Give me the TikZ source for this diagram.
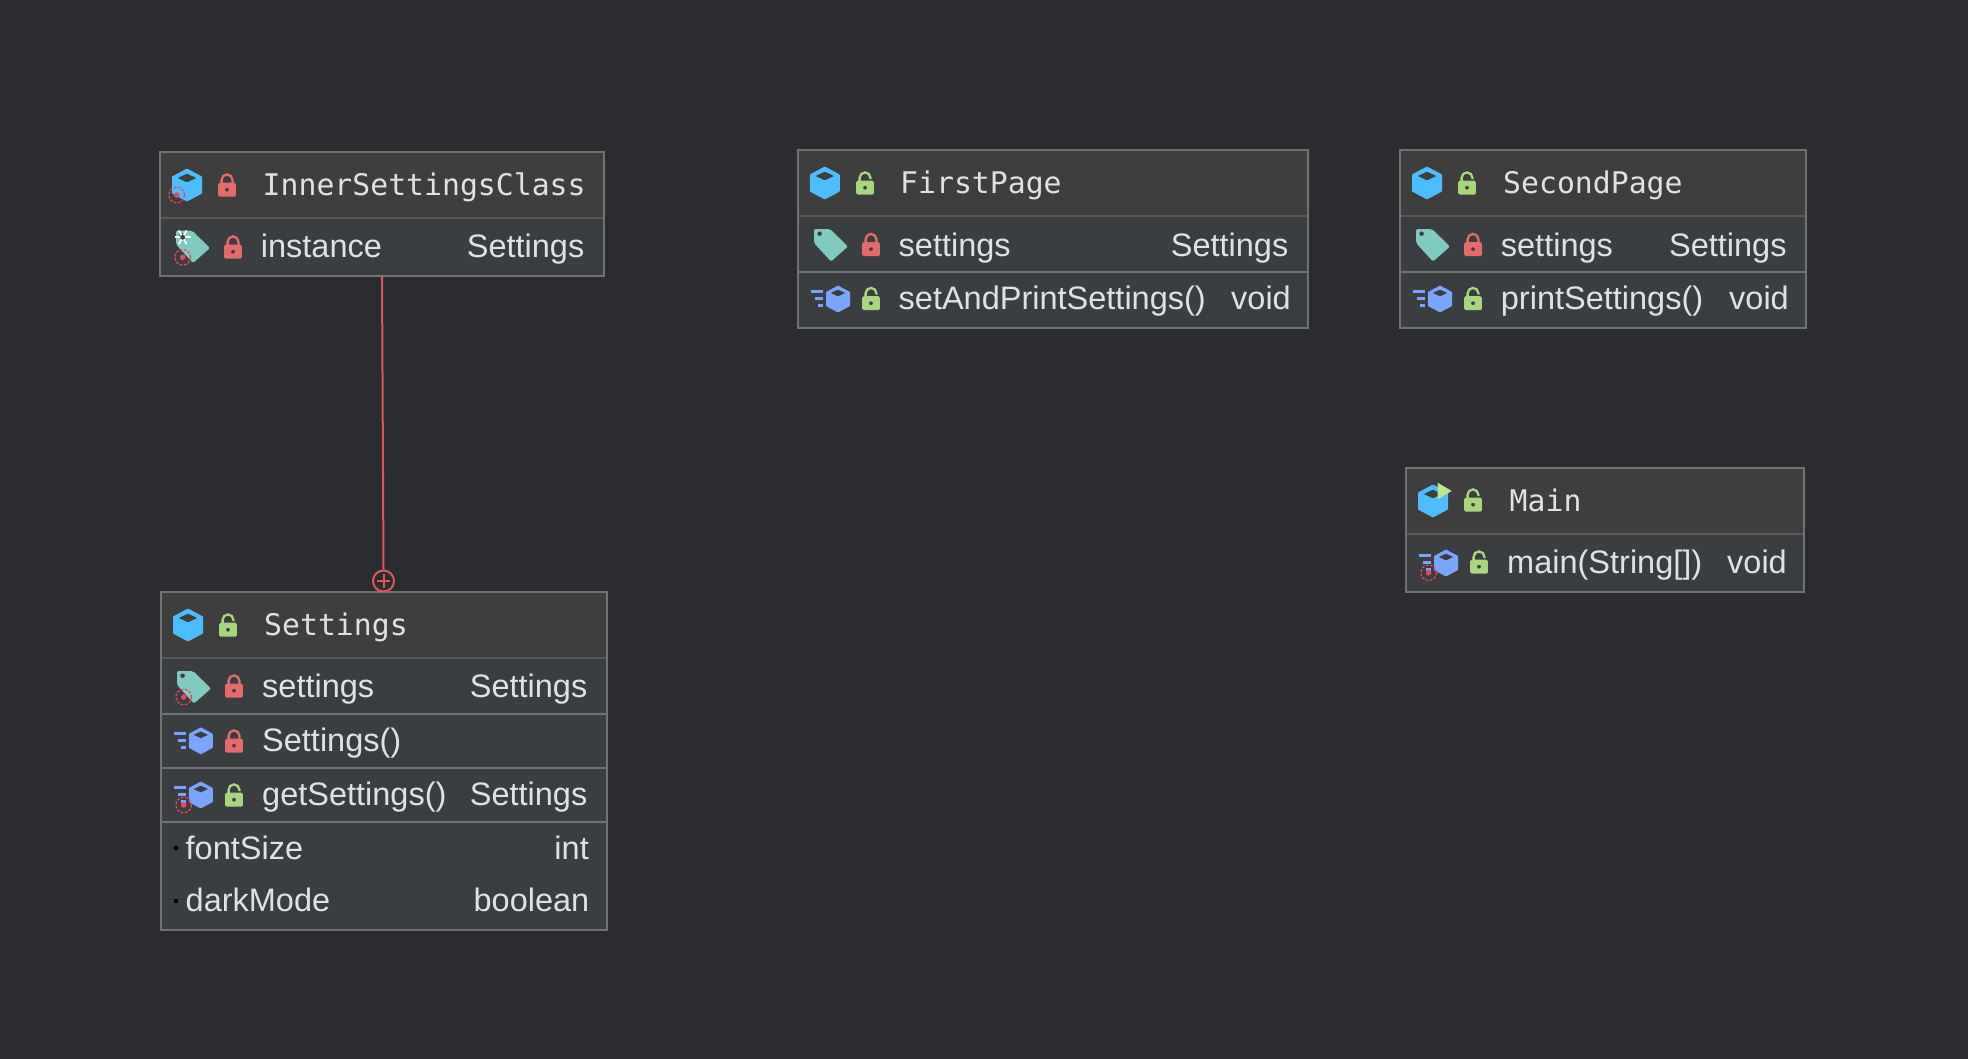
\documentclass[tikz,border=0pt]{standalone}
\usepackage{fontspec}
\setmainfont{Liberation Sans}
\setmonofont{DejaVu Sans Mono}
\definecolor{canvas}{HTML}{2A2C2F}
\definecolor{headfill}{HTML}{3E3E3E}
\definecolor{rowfill}{HTML}{3B3E41}
\definecolor{frame}{HTML}{727272}
\definecolor{dimframe}{HTML}{585858}
\definecolor{label}{HTML}{DFE1E5}
\definecolor{classblue}{HTML}{4CBEFF}
\definecolor{methodblue}{HTML}{7AA5FF}
\definecolor{tagteal}{HTML}{7FCBC0}
\definecolor{lockred}{HTML}{E66A6A}
\definecolor{lockgreen}{HTML}{A8D67E}
\definecolor{rungreen}{HTML}{BDE48E}
\definecolor{markred}{HTML}{F0435F}
\definecolor{linkred}{HTML}{E0555C}
\tikzset{
  x=1pt,y=-1pt,
  head/.style={draw=frame,fill=headfill,line width=2.2pt,anchor=north west,inner sep=0pt,outer sep=0pt},
  row/.style={head,fill=rowfill},
  title/.style={text=label,anchor=base west,inner sep=0pt,font=\ttfamily\fontsize{29.8}{32}\selectfont},
  member/.style={text=label,anchor=base west,inner sep=0pt,font=\fontsize{32.5}{34}\selectfont},
  kind/.style={member,anchor=base east},
  dimline/.style={draw=dimframe,line width=2pt},
  pics/classcube/.style={code={
    \fill[classblue,even odd rule,rounded corners=0.8pt] (0,-16.5) -- (15,-8.5) -- (15,8.5) -- (0,16.5) -- (-15,8.5) -- (-15,-8.5) -- cycle
      (0,-11.5) -- (9.5,-7) -- (0,-2.5) -- (-9.5,-7) -- cycle;
  }},
  pics/methodcube/.style={code={
    \fill[methodblue,even odd rule,rounded corners=0.6pt] (0,-13.5) -- (12,-7) -- (12,7) -- (0,13.5) -- (-12,7) -- (-12,-7) -- cycle
      (0,-9.5) -- (7.5,-6) -- (0,-2.5) -- (-7.5,-6) -- cycle;
    \fill[methodblue] (-26.7,-8.8) rectangle (-15,-5.8);
    \fill[methodblue] (-23,-2.2) rectangle (-15,0.8);
    \fill[methodblue] (-20,5.2) rectangle (-15,8.2);
  }},
  pics/tag/.style={code={
    \fill[tagteal,even odd rule,rounded corners=2pt] (-17,-16) -- (-1,-16) -- (17,1.5) -- (0,16.5) -- (-17,-2) -- cycle
      (-9,-11.3) arc[start angle=0,end angle=360,radius=2.4];
  }},
  pics/lockshut/.style={code={
    \draw[lockred,line width=2.3pt] (-5.4,0) -- (-5.4,-5.2) arc[start angle=180,end angle=360,radius=5.4] -- (5.4,0);
    \fill[lockred,even odd rule,rounded corners=1.5pt] (-8.8,-2.3) rectangle (8.8,11.7)
      (2,4.7) arc[start angle=0,end angle=360,radius=2];
  }},
  pics/lockopen/.style={code={
    \draw[lockgreen,line width=2.3pt] (-5.4,0) -- (-5.4,-5.2) arc[start angle=180,end angle=360,radius=5.4] -- (5.4,-3.8);
    \fill[lockgreen,even odd rule,rounded corners=1.5pt] (-8.8,-2.3) rectangle (8.8,11.7)
      (2,4.7) arc[start angle=0,end angle=360,radius=2];
  }},
  pics/staticmark/.style={code={
    \draw[markred,line width=1.3pt,dash pattern=on 2.6pt off 1.6pt] (0,0) circle[radius=7.8];
    \fill[markred] (0,0) circle[radius=2.8];
  }},
  pics/frozenmark/.style={code={
    \draw[white,line width=1.8pt] (-7.8,0) -- (7.8,0);
    \draw[white,line width=1.8pt] (-3.9,-6.8) -- (3.9,6.8);
    \draw[white,line width=1.8pt] (-3.9,6.8) -- (3.9,-6.8);
    \fill[rowfill] (0,0) circle[radius=2.4];
  }},
  pics/packagemark/.style={code={
    \fill[black] (-2,-2) rectangle (2,2);
  }},
  pics/runmark/.style={code={
    \fill[rungreen] (4.7,-18.3) -- (18.7,-10) -- (4.7,-1.7) -- cycle;
  }},
}
\begin{document}
\begin{tikzpicture}
\useasboundingbox (0,0) rectangle (1968,1058);
\fill[canvas] (-5,-5) rectangle (1973,1063);

% InnerSettingsClass
\node[head,minimum width=444pt,minimum height=66pt](innerhead) at (160,152) {};
\node[row,minimum width=444pt,minimum height=58pt](innerfield) at (160,218) {};
\draw[dimline] ([xshift=1pt]innerhead.south west) -- ([xshift=-1pt]innerhead.south east);
\pic at (187,185) {classcube};
\pic at (176.7,195) {staticmark};
\pic at (227,185) {lockshut};
\node[title](innertitle) at (262.5,195.5) {InnerSettingsClass};
\pic at (193,246.5) {tag};
\pic at (182.7,237.3) {frozenmark};
\pic at (182.7,257.3) {staticmark};
\pic at (233,247) {lockshut};
\node[member](innername) at (260.7,257.8) {instance};
\node[kind](innertype) at (584.5,257.8) {Settings};

% Settings
\node[head,minimum width=446pt,minimum height=66pt](sethead) at (161,592) {};
\node[row,minimum width=446pt,minimum height=56pt](setfield) at (161,658) {};
\node[row,minimum width=446pt,minimum height=54pt](setctor) at (161,714) {};
\node[row,minimum width=446pt,minimum height=54pt](setgetter) at (161,768) {};
\node[row,minimum width=446pt,minimum height=108pt](setprops) at (161,822) {};
\draw[dimline] ([xshift=1pt]sethead.south west) -- ([xshift=-1pt]sethead.south east);
\pic at (188,625) {classcube};
\pic at (228,625) {lockopen};
\node[title](settitle) at (264,635.3) {Settings};
\pic at (194,687) {tag};
\pic at (183.7,697) {staticmark};
\pic at (234,686) {lockshut};
\node[member](setname) at (262,697.5) {settings};
\node[kind](settype) at (587.5,697.5) {Settings};
\pic at (200.8,740.8) {methodcube};
\pic at (234,741) {lockshut};
\node[member](ctorname) at (262,751.5) {Settings()};
\pic at (200.8,795) {methodcube};
\pic at (183.7,805) {staticmark};
\pic at (234,795) {lockopen};
\node[member](getname) at (262,805.8) {getSettings()};
\node[kind](gettype) at (587.5,805.8) {Settings};
\pic at (176,847.7) {packagemark};
\node[member](fontname) at (185.5,859) {fontSize};
\node[kind](fonttype) at (589,859) {int};
\pic at (176,900.7) {packagemark};
\node[member](darkname) at (185.5,911) {darkMode};
\node[kind](darktype) at (589.5,911) {boolean};

% FirstPage
\node[head,minimum width=510pt,minimum height=66pt](firsthead) at (798,150) {};
\node[row,minimum width=510pt,minimum height=56pt](firstfield) at (798,216) {};
\node[row,minimum width=510pt,minimum height=56pt](firstmethod) at (798,272) {};
\draw[dimline] ([xshift=1pt]firsthead.south west) -- ([xshift=-1pt]firsthead.south east);
\pic at (824.8,183) {classcube};
\pic at (865,183) {lockopen};
\node[title](firsttitle) at (900,193.3) {FirstPage};
\pic at (831,245) {tag};
\pic at (871,244.5) {lockshut};
\node[member](firstname) at (898.5,256) {settings};
\node[kind](firsttype) at (1288.5,256) {Settings};
\pic at (838,299) {methodcube};
\pic at (871,298.5) {lockopen};
\node[member](firstcall) at (898.5,309.3) {setAndPrintSettings()};
\node[kind](firstvoid) at (1291,309.3) {void};

% SecondPage
\node[head,minimum width=406pt,minimum height=66pt](secondhead) at (1400,150) {};
\node[row,minimum width=406pt,minimum height=56pt](secondfield) at (1400,216) {};
\node[row,minimum width=406pt,minimum height=56pt](secondmethod) at (1400,272) {};
\draw[dimline] ([xshift=1pt]secondhead.south west) -- ([xshift=-1pt]secondhead.south east);
\pic at (1427,183) {classcube};
\pic at (1467,183) {lockopen};
\node[title](secondtitle) at (1503,193.3) {SecondPage};
\pic at (1433,245) {tag};
\pic at (1473,244.5) {lockshut};
\node[member](secondname) at (1500.7,256) {settings};
\node[kind](secondtype) at (1786.7,256) {Settings};
\pic at (1440,299) {methodcube};
\pic at (1473,298.5) {lockopen};
\node[member](secondcall) at (1500.7,309.3) {printSettings()};
\node[kind](secondvoid) at (1789,309.3) {void};

% Main
\node[head,minimum width=398pt,minimum height=66pt](mainhead) at (1406,468) {};
\node[row,minimum width=398pt,minimum height=58pt](mainmethod) at (1406,534) {};
\draw[dimline] ([xshift=1pt]mainhead.south west) -- ([xshift=-1pt]mainhead.south east);
\pic at (1433,501) {classcube};
\pic at (1433,501) {runmark};
\pic at (1473,500) {lockopen};
\node[title](maintitle) at (1509.5,511) {Main};
\pic at (1446,563) {methodcube};
\pic at (1428.7,572.7) {staticmark};
\pic at (1479,562) {lockopen};
\node[member](maincall) at (1507,573.6) {main(String[])};
\node[kind](mainvoid) at (1787,573.6) {void};

% nesting link
\node[draw=linkred,circle,line width=2pt,minimum size=21pt,inner sep=0pt](nest) at (383.5,581) {};
\draw[linkred,line width=2pt] (nest.center) ++(-6.7,0) -- ++(13.4,0);
\draw[linkred,line width=2pt] (nest.center) ++(0,-6.7) -- ++(0,13.4);
\draw[linkred,line width=2pt] (innerfield.south) -- (nest.north);
\end{tikzpicture}
\end{document}
